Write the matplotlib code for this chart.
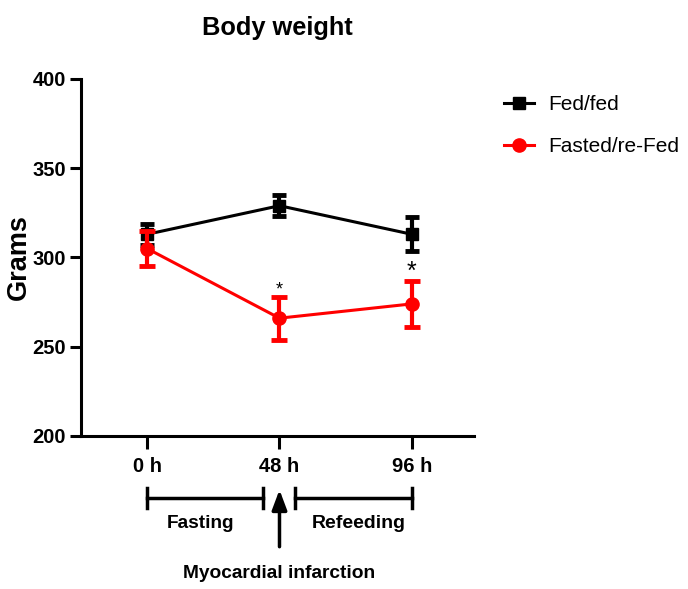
import numpy as np
import matplotlib
matplotlib.use("Agg")
import matplotlib.pyplot as plt
from matplotlib.lines import Line2D

plt.rcParams['font.family'] = ['Liberation Sans', 'DejaVu Sans']

timepoints = ['0 h', '48 h', '96 h']
fed_mean = [313, 329, 313]
fed_err = [6, 6, 9.5]
fasted_mean = [305, 266, 274]
fasted_err = [10, 12, 13]
star_y = [282, 292]
yticks = [200, 250, 300, 350, 400]

fig = plt.figure(figsize=(6.88, 5.89), dpi=100)
ax = fig.add_axes([0.1177, 0.2598, 0.5713, 0.6061])

x = np.arange(len(timepoints))
ax.errorbar(x, fed_mean, yerr=fed_err, color='black', marker='s', ms=8.5,
            lw=2.2, elinewidth=3, capsize=5, capthick=3.5, zorder=3)
ax.errorbar(x, fasted_mean, yerr=fasted_err, color='red', marker='o', ms=9.5,
            lw=2.2, elinewidth=3, capsize=5.5, capthick=3.5, zorder=4)

ax.text(1, star_y[0], '*', ha='center', va='center', fontsize=13)
ax.text(2, star_y[1], '*', ha='center', va='center', fontsize=18)

ax.set_xlim(-0.5, 2.47)
ax.set_ylim(200, 400)
ax.set_xticks(x)
ax.set_xticklabels(timepoints, fontsize=14.5, fontweight='bold')
ax.set_yticks(yticks)
ax.set_yticklabels([str(v) for v in yticks], fontsize=14.5, fontweight='bold')
ax.tick_params(axis='y', width=2.2, length=8, pad=3)
ax.tick_params(axis='x', width=2.2, length=9, pad=6)
for s in ['top', 'right']:
    ax.spines[s].set_visible(False)
for s in ['left', 'bottom']:
    ax.spines[s].set_linewidth(2.2)

ax.set_ylabel('Grams', fontsize=19.5, fontweight='bold')
ax.yaxis.set_label_coords(-0.124, 0.5)
ax.set_title('Body weight', fontsize=18.3, fontweight='bold', pad=32)

# timeline underneath
tr = ax.get_xaxis_transform()
yb = -0.174
for x0, x1 in [(0, 0.875), (1.12, 2.0)]:
    ax.plot([x0, x1], [yb, yb], color='black', lw=2.5, transform=tr, clip_on=False)
    for xe in (x0, x1):
        ax.plot([xe, xe], [yb - 0.028, yb + 0.028], color='black', lw=2.5,
                transform=tr, clip_on=False)
ax.text(0.4, -0.246, 'Fasting', transform=tr, ha='center', va='center',
        fontsize=13.7, fontweight='bold')
ax.text(1.6, -0.246, 'Refeeding', transform=tr, ha='center', va='center',
        fontsize=14, fontweight='bold')
ax.annotate('', xy=(1, -0.143), xytext=(1, -0.318), xycoords=tr, textcoords=tr,
            arrowprops=dict(arrowstyle='-|>,head_width=0.45,head_length=1.2',
                            color='black', lw=2.5))
ax.text(1, -0.384, 'Myocardial infarction', transform=tr, ha='center',
        va='center', fontsize=13.8, fontweight='bold')

handles = [Line2D([], [], color='black', marker='s', ms=8.5, lw=2.2),
           Line2D([], [], color='red', marker='o', ms=9.5, lw=2.2)]
fig.legend(handles, ['Fed/fed', 'Fasted/re-Fed'], loc='upper left',
           bbox_to_anchor=(0.705, 0.87), frameon=False, fontsize=15,
           handlelength=1.45, handletextpad=0.7, labelspacing=1.1)

fig.savefig('out.png', dpi=100)
